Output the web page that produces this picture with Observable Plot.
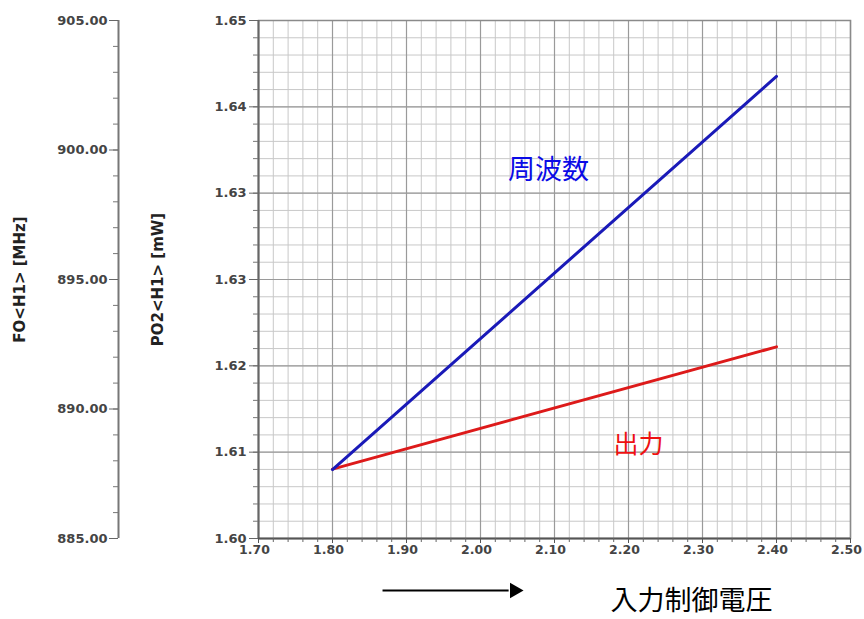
<!DOCTYPE html>
<html>
<head>
<meta charset="utf-8">
<script src="https://cdn.jsdelivr.net/npm/d3@7"></script>
<script src="https://cdn.jsdelivr.net/npm/@observablehq/plot@0.6"></script>
<style>
  html, body { margin: 0; padding: 0; background: #fff; overflow: hidden; }
</style>
</head>
<body>
<div id="chart"></div>
<script>
// ---- data ----
const voltage = [1.80, 2.40];               // 入力制御電圧 (V)
const freqMHz = [887.66, 902.84];           // FO<H1> [MHz]  (周波数)
const powerMW = [1.6067, 1.6185];           // PO2<H1> [mW]  (出力)

const xTickLabels = ["1.70","1.80","1.90","2.00","2.10","2.20","2.30","2.40","2.50"];
const poTickLabels = ["1.60","1.61","1.62","1.63","1.63","1.64","1.65"];
const foTickLabels = ["885.00","890.00","895.00","900.00","905.00"];

const xDomain = [1.70, 2.50];
const poDomain = [1.60, 1.65];
const foDomain = [885, 905];

const freqNote = [{text: "周波数", x: 2.092, y: 1.6355}];
const powerNote = [{text: "出力", x: 2.2135, y: 1.6090}];
const arrowLine = [{x1: 1.8676, x2: 2.038, y: 1.59498}];
const arrowHead = [{x: 2.046, y: 1.59498}];
const xTitle = "入力制御電圧";
const foTitle = "FO<H1> [MHz]";
const poTitle = "PO2<H1> [mW]";

// ---- derived ----
const xMajor = xTickLabels.map(Number);
const xMinor = d3.range(0, 41).map(i => xDomain[0] + i * (xDomain[1] - xDomain[0]) / 40);
const poMajor = poTickLabels.map((_, i) => poDomain[0] + i * (poDomain[1] - poDomain[0]) / 6);
const poMinor = d3.range(0, 31).map(i => poDomain[0] + i * (poDomain[1] - poDomain[0]) / 30);
const fo2y = d3.scaleLinear().domain(foDomain).range(poDomain);
const foMajor = foTickLabels.map(s => fo2y(+s));
const foMinor = d3.range(0, 21).map(i => fo2y(foDomain[0] + i));

const freqSeries = voltage.map((v, i) => ({v, y: fo2y(freqMHz[i])}));
const powerSeries = voltage.map((v, i) => ({v, y: powerMW[i]}));

const font = "'DejaVu Sans', 'Liberation Sans', Arial, 'Noto Sans CJK JP', sans-serif";
const cjk = "'Noto Sans CJK JP', sans-serif";
const axisColor = "#444";

const chart = Plot.plot({
  width: 864,
  height: 619,
  marginLeft: 258,
  marginRight: 14,
  marginTop: 20,
  marginBottom: 81,
  style: {fontFamily: font, background: "#fff", fontSize: "13px"},
  x: {domain: xDomain, axis: null},
  y: {domain: poDomain, axis: null},
  marks: [
    // grid
    Plot.gridX(xMinor, {stroke: "#c8c8c8", strokeOpacity: 1, strokeWidth: 1}),
    Plot.gridY(poMinor, {stroke: "#c8c8c8", strokeOpacity: 1, strokeWidth: 1}),
    Plot.gridX(xMajor, {stroke: "#9a9a9a", strokeOpacity: 1, strokeWidth: 1.2}),
    Plot.gridY(poMajor, {stroke: "#9a9a9a", strokeOpacity: 1, strokeWidth: 1.2}),
    Plot.frame({stroke: "#8a8a8a", strokeWidth: 1.5}),
    Plot.ruleX([xDomain[0]], {stroke: "#666", strokeWidth: 2}),
    Plot.ruleY([poDomain[0]], {stroke: "#555", strokeWidth: 2}),
    // PO2 axis (frame left)
    Plot.axisY(poMinor, {anchor: "left", tickSize: 5, stroke: "#777", fill: "none", label: null}),
    Plot.axisY(poMajor, {anchor: "left", tickSize: 9, tickPadding: 3, stroke: "#666", fill: axisColor,
      fontWeight: "bold", fontSize: 13, tickFormat: d => poTickLabels[poMajor.indexOf(d)], label: null}),
    // FO axis (offset to the left)
    Plot.ruleX([xDomain[0]], {dx: -140, stroke: "#777", strokeWidth: 2}),
    Plot.axisY(foMinor, {anchor: "left", dx: -140, tickSize: 5, stroke: "#777", fill: "none", label: null}),
    Plot.axisY(foMajor, {anchor: "left", dx: -140, tickSize: 9, tickPadding: 2, stroke: "#666", fill: axisColor,
      fontWeight: "bold", fontSize: 13, tickFormat: d => foTickLabels[foMajor.indexOf(d)], label: null}),
    // x axis
    Plot.axisX(xMinor, {anchor: "bottom", tickSize: 4, stroke: "#666", fill: "none", label: null}),
    Plot.axisX(xMajor, {anchor: "bottom", tickSize: 5, tickPadding: 2, stroke: "#555", fill: "none", label: null}),
    Plot.axisX(xMajor, {anchor: "bottom", tickSize: 5, tickPadding: 2, dx: -4, stroke: "none", fill: axisColor,
      fontWeight: "bold", fontSize: 12.5, tickFormat: d => xTickLabels[xMajor.indexOf(d)], label: null}),
    // axis titles
    Plot.text([foTitle], {frameAnchor: "left", textAnchor: "middle", dx: -238, dy: 0, rotate: -90,
      fontWeight: "bold", fontSize: 15, fill: "#222"}),
    Plot.text([poTitle], {frameAnchor: "left", textAnchor: "middle", dx: -100, dy: 0, rotate: -90,
      fontWeight: "bold", fontSize: 15, fill: "#222"}),
    // series
    Plot.line(powerSeries, {x: "v", y: "y", stroke: "#dd1a1a", strokeWidth: 3}),
    Plot.line(freqSeries, {x: "v", y: "y", stroke: "#1a1ab8", strokeWidth: 3}),
    // annotations
    Plot.text(freqNote, {x: "x", y: "y", text: "text", fill: "#0a0ae6", fontSize: 27, fontFamily: cjk}),
    Plot.text(powerNote, {x: "x", y: "y", text: "text", fill: "#ee1111", fontSize: 25, fontFamily: cjk}),
    Plot.link(arrowLine, {x1: "x1", x2: "x2", y1: "y", y2: "y", stroke: "#000", strokeWidth: 2}),
    Plot.dot(arrowHead, {x: "x", y: "y", symbol: "triangle", rotate: 90, r: 5.8, fill: "#000", stroke: "none"}),
    Plot.text([xTitle], {frameAnchor: "bottom", dx: 137, dy: 71, fontSize: 27, fill: "#000", fontFamily: cjk})
  ]
});
document.getElementById("chart").appendChild(chart);
</script>
</body>
</html>
